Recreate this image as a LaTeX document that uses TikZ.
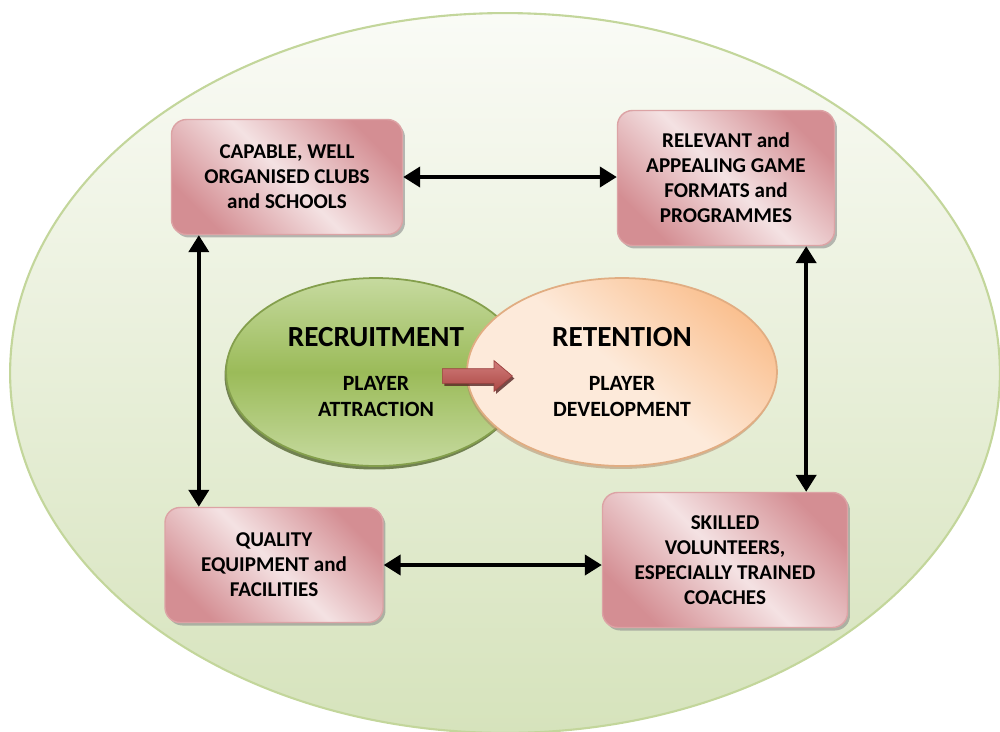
\documentclass[tikz,border=0pt]{standalone}
\usepackage{fontspec}
\setmainfont{Carlito}
\usetikzlibrary{shapes.geometric,shapes.arrows,arrows.meta,shadows}
\definecolor{BoxDark}{HTML}{D48E93}
\definecolor{BoxLight}{HTML}{F4E2E3}
\definecolor{BoxEdge}{HTML}{DCA3A5}
\definecolor{BgTop}{HTML}{FAFBF6}
\definecolor{BgBottom}{HTML}{D6E3BC}
\definecolor{BgEdge}{HTML}{C3D69B}
\definecolor{RecGreen}{HTML}{9BBB59}
\definecolor{RecLight}{HTML}{C6DA9F}
\definecolor{RetOrange}{HTML}{FAC090}
\definecolor{RetLight}{HTML}{FDEADA}
\definecolor{ArrowRed}{HTML}{C0504D}
\newcommand\ovalhead{\fontsize{16.6}{19}\selectfont}

\begin{document}
\begin{tikzpicture}[x=0.02cm,y=-0.02cm,
box/.style={draw=BoxEdge,line width=0.8pt,rounded corners=0.3cm,align=center,font=\bfseries\fontsize{12}{14.2}\selectfont,left color=BoxDark,right color=BoxDark,middle color=BoxLight,shading angle=135,drop shadow={shadow xshift=0.05cm,shadow yshift=-0.06cm,fill=black!45,opacity=0.6}},
oval/.style={ellipse,line width=1pt,align=center,font=\bfseries\fontsize{12.4}{14.6}\selectfont},
link/.style={<->,line width=0.8mm},
>={Triangle[length=3.4mm,width=4mm]}]

\useasboundingbox (0,0) rectangle (1000,731);
\node[ellipse,draw=BgEdge,line width=1.2pt,top color=BgTop,bottom color=BgBottom,minimum width=19.8cm,minimum height=14.4cm] (field) at (505,373) {};

\node[oval,draw=RecGreen!85!black,top color=RecLight,bottom color=RecLight,middle color=RecGreen,minimum width=6cm,minimum height=3.76cm,drop shadow={shadow xshift=-0.03cm,shadow yshift=-0.07cm,fill=RecGreen!55!black,opacity=0.8}] (recruit) at (376,372) {{\ovalhead RECRUITMENT}\\[0.36cm]PLAYER\\ATTRACTION};
\node[oval,draw=RetOrange!90!black,top color=RetOrange,bottom color=RetLight,middle color=RetLight,shading angle=-40,minimum width=6.2cm,minimum height=3.76cm,drop shadow={shadow xshift=-0.02cm,shadow yshift=-0.06cm,fill=RetOrange!70!black,opacity=0.5}] (retain) at (622,372) {{\ovalhead RETENTION}\\[0.36cm]PLAYER\\DEVELOPMENT};
\node[single arrow,draw=ArrowRed!80!black,top color=ArrowRed!75!white,bottom color=ArrowRed!90!black,minimum height=1.4cm,inner xsep=0pt,inner ysep=0.14cm,single arrow head extend=0.16cm,single arrow tip angle=80,drop shadow={shadow xshift=0.04cm,shadow yshift=-0.05cm,fill=ArrowRed!45!black,opacity=0.8}] (shift) at (473,376) {};

\node[box,minimum width=4.62cm,minimum height=2.3cm] (clubs) at (287,177) {CAPABLE, WELL\\ORGANISED CLUBS\\and SCHOOLS};
\node[box,minimum width=4.34cm,minimum height=2.7cm] (games) at (726,178) {RELEVANT and\\APPEALING GAME\\FORMATS and\\PROGRAMMES};
\node[box,minimum width=4.36cm,minimum height=2.3cm] (equip) at (274,565) {QUALITY\\EQUIPMENT and\\FACILITIES};
\node[box,minimum width=4.9cm,minimum height=2.7cm] (coach) at (725,560) {SKILLED\\VOLUNTEERS,\\ESPECIALLY TRAINED\\COACHES};

\draw[link] (clubs.east) -- (clubs.east -| games.west);
\draw[link] ([xshift=5.6mm]clubs.south west) -- ([xshift=5.6mm]clubs.south west |- equip.north);
\draw[link] ([xshift=-5.8mm]games.south east) -- ([xshift=-5.8mm]games.south east |- coach.north);
\draw[link] (equip.east) -- (equip.east -| coach.west);

\end{tikzpicture}
\end{document}
